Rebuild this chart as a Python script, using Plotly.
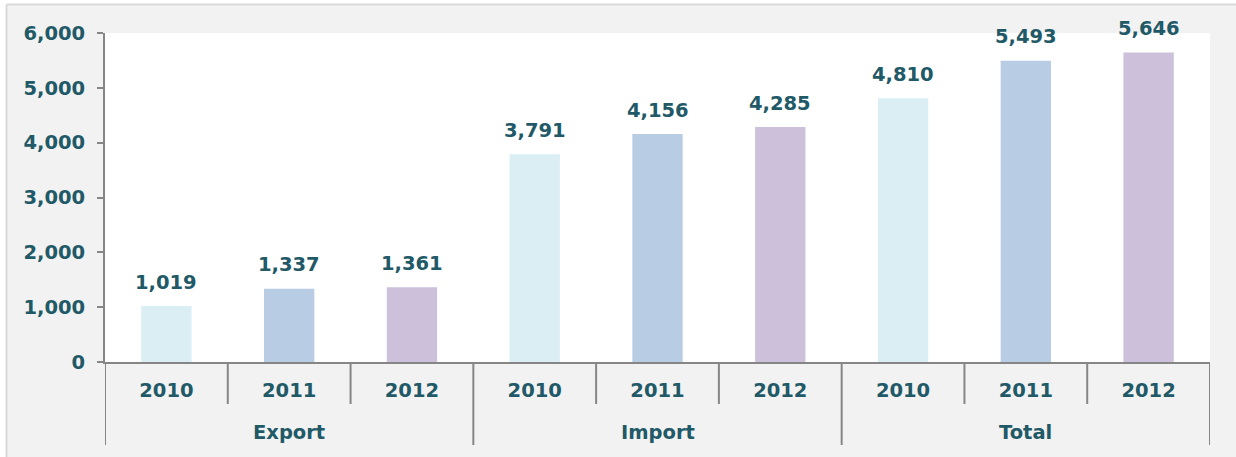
import plotly.graph_objects as go

# Trade values by flow and year
group_names = ["Export", "Import", "Total"]
years = ["2010", "2011", "2012"]
values = {
    "Export": [1019, 1337, 1361],
    "Import": [3791, 4156, 4285],
    "Total": [4810, 5493, 5646],
}
year_colors = {"2010": "#DAEEF3", "2011": "#B8CCE4", "2012": "#CCC0DA"}
y_ticks = [0, 1000, 2000, 3000, 4000, 5000, 6000]

TEXT = "#215967"
AXIS = "#868686"
FONT = "DejaVu Sans"
FS = 19.5

# flatten into one bar per (flow, year) slot
slot_years, slot_vals, slot_cols = [], [], []
for g in group_names:
    for yr, v in zip(years, values[g]):
        slot_years.append(yr)
        slot_vals.append(v)
        slot_cols.append(year_colors[yr])
pos = list(range(len(slot_vals)))

fig = go.Figure(
    go.Bar(
        x=pos,
        y=slot_vals,
        width=0.41,
        marker=dict(color=slot_cols, line=dict(width=0)),
        hoverinfo="skip",
    )
)

# value labels above the bars
for p, v in zip(pos, slot_vals):
    fig.add_annotation(
        x=p, y=v, text=f"<b>{v:,}</b>", showarrow=False, yshift=24,
        font=dict(family=FONT, size=FS, color=TEXT),
    )

# layout geometry in pixels
W, H = 1236, 457
L, R, T, B = 105, 26, 33, 95
PW, PH = W - L - R, H - T - B


def px_x(px):
    return (px - L) / PW


def px_y(py):
    return (H - B - py) / PH


# flow group labels and category separators below the axis
n_per = len(years)
for gi, g in enumerate(group_names):
    fig.add_annotation(
        x=gi * n_per + (n_per - 1) / 2, y=px_y(432), yref="paper",
        text=f"<b>{g}</b>", showarrow=False, yanchor="middle",
        font=dict(family=FONT, size=FS, color=TEXT),
    )
for b in range(len(pos) + 1):
    outer = b % n_per == 0
    fig.add_shape(
        type="line", xref="x", yref="paper",
        x0=b - 0.5, x1=b - 0.5, y0=0, y1=px_y(445 if outer else 404),
        line=dict(color=AXIS, width=2),
    )

# outer panel edge
fig.add_shape(type="rect", xref="paper", yref="paper", layer="below",
              x0=px_x(-10), x1=px_x(W + 10), y0=px_y(4.5), y1=px_y(-10),
              fillcolor="white", line=dict(width=0))
fig.add_shape(type="rect", xref="paper", yref="paper", layer="below",
              x0=px_x(-10), x1=px_x(6.5), y0=px_y(H + 10), y1=px_y(-10),
              fillcolor="white", line=dict(width=0))
fig.add_shape(type="line", xref="paper", yref="paper", layer="below",
              x0=px_x(6.5), x1=px_x(W + 10), y0=px_y(4.5), y1=px_y(4.5),
              line=dict(color="#D9D9D9", width=2))
fig.add_shape(type="line", xref="paper", yref="paper", layer="below",
              x0=px_x(6.5), x1=px_x(6.5), y0=px_y(4.5), y1=px_y(H + 10),
              line=dict(color="#D9D9D9", width=2))

fig.update_layout(
    width=W, height=H,
    margin=dict(l=L, r=R, t=T, b=B, pad=0),
    paper_bgcolor="#F2F2F2",
    plot_bgcolor="white",
    showlegend=False,
    font=dict(family=FONT, size=FS, color=TEXT),
)
fig.update_xaxes(
    range=[-0.5, len(pos) - 0.5],
    tickvals=pos, ticktext=[f"<b>{y}</b>" for y in slot_years],
    ticks="", ticklabelstandoff=10,
    showline=True, linecolor=AXIS, linewidth=2,
    tickfont=dict(family=FONT, size=FS, color=TEXT),
    showgrid=False, zeroline=False,
)
fig.update_yaxes(
    range=[0, 6000], tickvals=y_ticks, tickformat=",",
    showline=True, linecolor=AXIS, linewidth=2,
    ticks="outside", ticklen=6, tickcolor=AXIS, tickwidth=2,
    ticklabelstandoff=8,
    tickfont=dict(family=FONT, size=FS, color=TEXT, weight="bold"),
    showgrid=False, zeroline=False,
)

fig.write_html("out.html")
